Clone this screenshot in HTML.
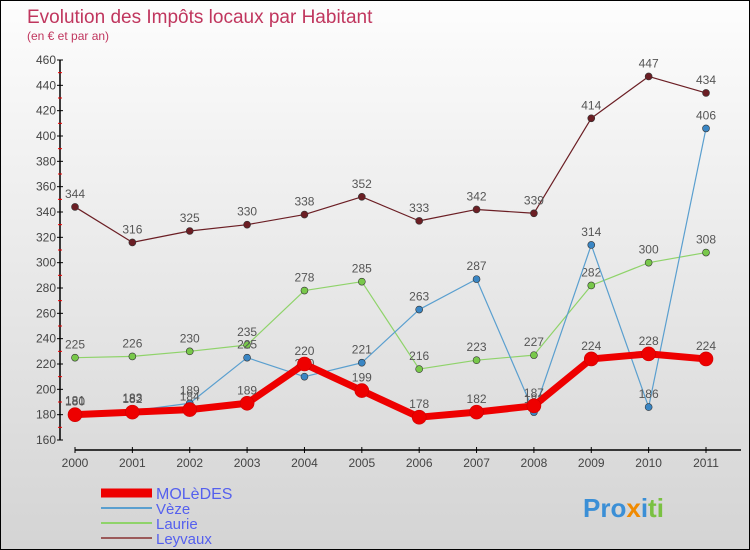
<!DOCTYPE html>
<html><head><meta charset="utf-8"><style>
body{margin:0}
#wrap{width:748px;height:548px;border:1px solid #000;background:linear-gradient(#fdfdfd,#d4d4d4);position:relative;font-family:"Liberation Sans",sans-serif}
</style></head><body>
<div id="wrap">
<svg id="svg" width="748" height="548" style="position:absolute;left:0;top:0">
<text x="26" y="22" font-size="19" fill="#c0365e">Evolution des Impôts locaux par Habitant</text>
<text x="26" y="39" font-size="12" fill="#c0365e">(en € et par an)</text>
<g id="axes"></g><g id="series"></g><g id="legend"></g>
<text x="582" y="516" font-size="26" font-weight="bold" fill="#3b8fd6">Pro<tspan fill="#f08a00">x</tspan><tspan fill="#3b8fd6">i</tspan><tspan fill="#7ac142">ti</tspan></text>
</svg>
</div>
<script>
const years=[2000,2001,2002,2003,2004,2005,2006,2007,2008,2009,2010,2011];
const seriesNames=["MOLèDES","Vèze","Laurie","Leyvaux"];
const moledes=[180,182,184,189,220,199,178,182,187,224,228,224];
const veze=[181,183,189,225,210,221,263,287,182,314,186,406];
const laurie=[225,226,230,235,278,285,216,223,227,282,300,308];
const leyvaux=[344,316,325,330,338,352,333,342,339,414,447,434];
const yTicks=[160,180,200,220,240,260,280,300,320,340,360,380,400,420,440,460];
const NS="http://www.w3.org/2000/svg";
const x=i=>74+i*(631/11);
const y=v=>439-(v-160)*(380/300);
function mk(tag,attrs,parent,txt){const e=document.createElementNS(NS,tag);for(const k in attrs)e.setAttribute(k,attrs[k]);if(txt!==undefined)e.textContent=txt;parent.appendChild(e);return e;}
const ax=document.getElementById('axes');
let l=mk('line',{x1:59,y1:y(460),x2:59,y2:y(160),stroke:'#000','stroke-width':1.5},ax);


l=mk('line',{x1:x(0),y1:449,x2:740,y2:449,stroke:'#000','stroke-width':1.5},ax);


yTicks.forEach((v,i)=>{
  mk('line',{x1:56,y1:y(v),x2:62,y2:y(v),stroke:'#000'},ax);
  if(i<yTicks.length-1) mk('line',{x1:57,y1:y(v+10),x2:61,y2:y(v+10),stroke:'#e00'},ax);
  const t=mk('text',{x:55,y:y(v)+4,'font-size':12,fill:'#444','text-anchor':'end'},ax,v);
  
  
});
years.forEach((yr,i)=>{
  mk('line',{x1:x(i),y1:446,x2:x(i),y2:452,stroke:'#000'},ax);
  const t=mk('text',{x:x(i),y:466,'font-size':12,fill:'#444','text-anchor':'middle'},ax,yr);
  
  
});
const sg=document.getElementById('series');
const cfg=[[leyvaux,'#6b1e24','#6b1e24',1.2,3.5,'leyvaux'],[laurie,'#8fd36a','#78c84a',1.2,3.5,'laurie'],[veze,'#5a9fcf','#3a86c4',1.2,3.5,'veze'],[moledes,'#ee0000','#ee0000',7,7,'moledes']];
cfg.forEach(([d,lc,pc,w,r,n])=>{
  const g=mk('g',{},sg);
  
  
  const p=mk('polyline',{points:d.map((v,i)=>x(i)+','+y(v)).join(' '),fill:'none',stroke:lc,'stroke-width':w,'stroke-linejoin':'round'},g);
  
  
  d.forEach((v,i)=>{
    const c=mk('circle',{cx:x(i),cy:y(v),r:r,fill:pc,stroke:n==='moledes'?'#c00':'#333','stroke-width':0.6},g);
    
    
    const t=mk('text',{x:x(i),y:y(v)-9,'font-size':12,fill:'#555','text-anchor':'middle'},g,v);
    
    
  });
});
const lg=document.getElementById('legend');
const lcfg=[['#ee0000',9],['#5a9fcf',2],['#8fd36a',2],['#9b5a5a',2]];
seriesNames.forEach((s,i)=>{
  const yy=492+i*15;
  const g=mk('g',{},lg);
  
  
  mk('line',{x1:100,y1:yy,x2:151,y2:yy,stroke:lcfg[i][0],'stroke-width':lcfg[i][1]},g);
  mk('text',{x:155,y:yy+6,'font-size':i===0?16:15,fill:'#5560ee'},g,s);
});
</script>
</body></html>
